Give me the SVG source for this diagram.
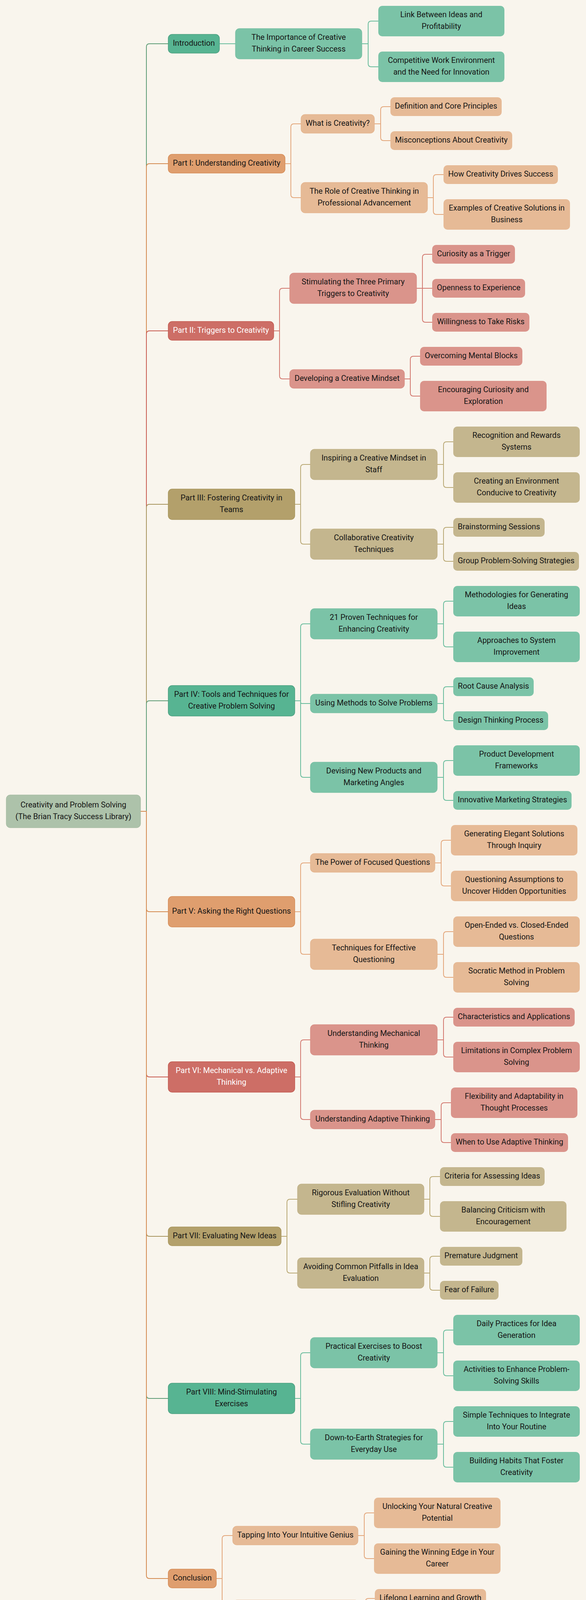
<svg xmlns="http://www.w3.org/2000/svg" width="1501" height="4218" viewBox="0 0 1501 4218">
<style>
.bg{fill:#F9F5ED}
rect{rx:10px;ry:10px}
.root{fill:#ADC2AA;stroke:#9DB49A;stroke-width:1}
.g1{fill:#57B492;stroke:#4A9E7F;stroke-width:1.5}
.g2{fill:#7BC3A7;stroke:#72BB9E;stroke-width:1}
.g3{fill:#7BC3A7}
.o1{fill:#DF9E6E;stroke:#D58B55;stroke-width:1.5}
.o2{fill:#E6BA96;stroke:#E2AD83;stroke-width:1}
.o3{fill:#E6BA96}
.r1{fill:#CD6E66;stroke:#C25A50;stroke-width:1.5}
.r2{fill:#DA948B;stroke:#D4837A;stroke-width:1}
.r3{fill:#DA948B}
.y1{fill:#B3A06B;stroke:#A8955C;stroke-width:1.5}
.y2{fill:#C4B68E;stroke:#BBAA7C;stroke-width:1}
.y3{fill:#C4B68E}
text{font-family:Roboto,"Liberation Sans",sans-serif;font-size:20px;fill:#151515;text-anchor:middle}
text.w{fill:#FFFFFF}
#connectors path{fill:none;stroke-width:2}
.tg{stroke:#5E9C76}.to{stroke:#D48A50}.tr{stroke:#C85A50}.ty{stroke:#A8955F}
.cg{stroke:#68BC9C}.co{stroke:#E3A67A}.cr{stroke:#D2786F}.cy{stroke:#B9A874}
</style>
<rect class="bg" x="0" y="0" width="1501" height="4218" style="rx:0;ry:0"/>
<g id="connectors">
<path class="tg" d="M360 2077H375V120Q375 112 383 112H431"/>
<path class="to" d="M360 2077H375V427Q375 419 383 419H431"/>
<path class="tr" d="M360 2077H375V855Q375 847 383 847H431"/>
<path class="ty" d="M360 2077H375V1299Q375 1291 383 1291H431"/>
<path class="tg" d="M360 2077H375V1802Q375 1794 383 1794H431"/>
<path class="to" d="M360 2077H375V2326Q375 2334 383 2334H431"/>
<path class="tr" d="M360 2077H375V2749Q375 2757 383 2757H431"/>
<path class="ty" d="M360 2077H375V3157Q375 3165 383 3165H431"/>
<path class="tg" d="M360 2077H375V3572Q375 3580 383 3580H431"/>
<path class="to" d="M360 2077H375V4033Q375 4041 383 4041H431"/>
<path class="cg" d="M562 112H603"/>
<path class="co" d="M730 419H745V325Q745 317 753 317H771"/>
<path class="co" d="M730 419H745V498Q745 506 753 506H771"/>
<path class="cr" d="M701 847H716V746Q716 738 724 738H742"/>
<path class="cr" d="M701 847H716V962Q716 970 724 970H742"/>
<path class="cy" d="M755 1291H770V1197Q770 1189 778 1189H795"/>
<path class="cy" d="M755 1291H770V1385Q770 1393 778 1393H795"/>
<path class="cg" d="M755 1794H770V1605Q770 1597 778 1597H795"/>
<path class="cg" d="M755 1794H770V1797.5Q770 1801 773.5 1801H795"/>
<path class="cg" d="M755 1794H770V1982Q770 1990 778 1990H795"/>
<path class="co" d="M755 2334H770V2217Q770 2209 778 2209H795"/>
<path class="co" d="M755 2334H770V2435Q770 2443 778 2443H795"/>
<path class="cr" d="M755 2757H770V2670Q770 2662 778 2662H795"/>
<path class="cr" d="M755 2757H770V2858Q770 2866 778 2866H795"/>
<path class="cy" d="M720 3165H735V3078Q735 3070 743 3070H762"/>
<path class="cy" d="M720 3165H735V3251Q735 3259 743 3259H762"/>
<path class="cg" d="M755 3580H770V3471Q770 3463 778 3463H795"/>
<path class="cg" d="M755 3580H770V3689Q770 3697 778 3697H795"/>
<path class="co" d="M554 4041H569V3939Q569 3931 577 3931H596"/>
<path class="co" d="M554 4041H569V4127Q569 4135 577 4135H596"/>
<path class="cg" d="M927 112H943V62Q943 54 951 54H969"/>
<path class="cg" d="M927 112H943V163Q943 171 951 171H969"/>
<path class="co" d="M959 317H975V281Q975 273 983 273H1000"/>
<path class="co" d="M959 317H975V352Q975 360 983 360H1000"/>
<path class="co" d="M1095 506H1110V455Q1110 447 1118 447H1136"/>
<path class="co" d="M1095 506H1110V541Q1110 549 1118 549H1136"/>
<path class="cr" d="M1067 738H1082V659Q1082 651 1090 651H1107"/>
<path class="cr" d="M1067 738H1107"/>
<path class="cr" d="M1067 738H1082V817Q1082 825 1090 825H1107"/>
<path class="cr" d="M1036 970H1051V920Q1051 912 1059 912H1076"/>
<path class="cr" d="M1036 970H1051V1006Q1051 1014 1059 1014H1076"/>
<path class="cy" d="M1120 1189H1136V1139Q1136 1131 1144 1131H1161"/>
<path class="cy" d="M1120 1189H1136V1240Q1136 1248 1144 1248H1161"/>
<path class="cy" d="M1120 1393H1136V1358Q1136 1350 1144 1350H1161"/>
<path class="cy" d="M1120 1393H1136V1429Q1136 1437 1144 1437H1161"/>
<path class="cg" d="M1120 1597H1136V1547Q1136 1539 1144 1539H1161"/>
<path class="cg" d="M1120 1597H1136V1648Q1136 1656 1144 1656H1161"/>
<path class="cg" d="M1120 1801H1136V1766Q1136 1758 1144 1758H1161"/>
<path class="cg" d="M1120 1801H1136V1837Q1136 1845 1144 1845H1161"/>
<path class="cg" d="M1120 1990H1136V1955Q1136 1947 1144 1947H1161"/>
<path class="cg" d="M1120 1990H1136V2041Q1136 2049 1144 2049H1161"/>
<path class="co" d="M1114 2209H1130V2159Q1130 2151 1138 2151H1155"/>
<path class="co" d="M1114 2209H1130V2260Q1130 2268 1138 2268H1155"/>
<path class="co" d="M1120 2443H1136V2393Q1136 2385 1144 2385H1161"/>
<path class="co" d="M1120 2443H1136V2494Q1136 2502 1144 2502H1161"/>
<path class="cr" d="M1120 2662H1136V2612Q1136 2604 1144 2604H1161"/>
<path class="cr" d="M1120 2662H1136V2698Q1136 2706 1144 2706H1161"/>
<path class="cr" d="M1114 2866H1130V2831Q1130 2823 1138 2823H1155"/>
<path class="cr" d="M1114 2866H1130V2917Q1130 2925 1138 2925H1155"/>
<path class="cy" d="M1086 3070H1101V3020Q1101 3012 1109 3012H1127"/>
<path class="cy" d="M1086 3070H1101V3106Q1101 3114 1109 3114H1127"/>
<path class="cy" d="M1086 3259H1101V3224Q1101 3216 1109 3216H1127"/>
<path class="cy" d="M1086 3259H1101V3295Q1101 3303 1109 3303H1127"/>
<path class="cg" d="M1120 3463H1136V3413Q1136 3405 1144 3405H1161"/>
<path class="cg" d="M1120 3463H1136V3514Q1136 3522 1144 3522H1161"/>
<path class="cg" d="M1120 3697H1136V3647Q1136 3639 1144 3639H1161"/>
<path class="cg" d="M1120 3697H1136V3748Q1136 3756 1144 3756H1161"/>
<path class="co" d="M917 3931H933V3881Q933 3873 941 3873H958"/>
<path class="co" d="M917 3931H933V3982Q933 3990 941 3990H958"/>
<path class="co" d="M920 4135H936V4100Q936 4092 944 4092H960"/>
<path class="co" d="M920 4135H936V4170Q936 4178 944 4178H960"/>
</g>
<g id="root"><rect class="root" x="16" y="2035" width="344" height="84"/><text x="188" y="2067">Creativity and Problem Solving</text><text x="188" y="2097">(The Brian Tracy Success Library)</text></g>
<g id="introduction"><rect class="g1" x="431" y="88" width="131" height="48"/><text x="496.5" y="117">Introduction</text></g>
<g id="part1"><rect class="o1" x="431" y="395" width="299" height="48"/><text x="580.5" y="424">Part I: Understanding Creativity</text></g>
<g id="part2"><rect class="r1" x="431" y="823" width="270" height="48"/><text class="w" x="566" y="852">Part II: Triggers to Creativity</text></g>
<g id="part3"><rect class="y1" x="431" y="1252" width="324" height="78"/><text x="593" y="1281">Part III: Fostering Creativity in</text><text x="593" y="1311">Teams</text></g>
<g id="part4"><rect class="g1" x="431" y="1755" width="324" height="78"/><text x="593" y="1784">Part IV: Tools and Techniques for</text><text x="593" y="1814">Creative Problem Solving</text></g>
<g id="part5"><rect class="o1" x="431" y="2295" width="324" height="78"/><text x="593" y="2339">Part V: Asking the Right Questions</text></g>
<g id="part6"><rect class="r1" x="431" y="2718" width="324" height="78"/><text class="w" x="593" y="2747">Part VI: Mechanical vs. Adaptive</text><text class="w" x="593" y="2777">Thinking</text></g>
<g id="part7"><rect class="y1" x="431" y="3141" width="289" height="48"/><text x="575.5" y="3170">Part VII: Evaluating New Ideas</text></g>
<g id="part8"><rect class="g1" x="431" y="3541" width="324" height="78"/><text x="593" y="3570">Part VIII: Mind-Stimulating</text><text x="593" y="3600">Exercises</text></g>
<g id="conclusion"><rect class="o1" x="431" y="4017" width="123" height="48"/><text x="492.5" y="4046">Conclusion</text></g>
<g id="importance"><rect class="g2" x="603" y="73" width="324" height="78"/><text x="765" y="102">The Importance of Creative</text><text x="765" y="132">Thinking in Career Success</text></g>
<g id="what-is"><rect class="o2" x="771" y="293" width="188" height="48"/><text x="865" y="322">What is Creativity?</text></g>
<g id="role"><rect class="o2" x="771" y="467" width="324" height="78"/><text x="933" y="496">The Role of Creative Thinking in</text><text x="933" y="526">Professional Advancement</text></g>
<g id="stimulating"><rect class="r2" x="742" y="699" width="325" height="78"/><text x="904.5" y="728">Stimulating the Three Primary</text><text x="904.5" y="758">Triggers to Creativity</text></g>
<g id="developing"><rect class="r2" x="742" y="946" width="294" height="48"/><text x="889" y="975">Developing a Creative Mindset</text></g>
<g id="inspiring"><rect class="y2" x="795" y="1150" width="325" height="78"/><text x="957.5" y="1179">Inspiring a Creative Mindset in</text><text x="957.5" y="1209">Staff</text></g>
<g id="collaborative"><rect class="y2" x="795" y="1354" width="325" height="78"/><text x="957.5" y="1383">Collaborative Creativity</text><text x="957.5" y="1413">Techniques</text></g>
<g id="proven"><rect class="g2" x="795" y="1558" width="325" height="78"/><text x="957.5" y="1587">21 Proven Techniques for</text><text x="957.5" y="1617">Enhancing Creativity</text></g>
<g id="using-methods"><rect class="g2" x="795" y="1777" width="325" height="48"/><text x="957.5" y="1806">Using Methods to Solve Problems</text></g>
<g id="devising"><rect class="g2" x="795" y="1951" width="325" height="78"/><text x="957.5" y="1980">Devising New Products and</text><text x="957.5" y="2010">Marketing Angles</text></g>
<g id="power"><rect class="o2" x="795" y="2185" width="319" height="48"/><text x="954.5" y="2214">The Power of Focused Questions</text></g>
<g id="techniques"><rect class="o2" x="795" y="2404" width="325" height="78"/><text x="957.5" y="2433">Techniques for Effective</text><text x="957.5" y="2463">Questioning</text></g>
<g id="mechanical"><rect class="r2" x="795" y="2623" width="325" height="78"/><text x="957.5" y="2652">Understanding Mechanical</text><text x="957.5" y="2682">Thinking</text></g>
<g id="adaptive"><rect class="r2" x="795" y="2842" width="319" height="48"/><text x="954.5" y="2871">Understanding Adaptive Thinking</text></g>
<g id="rigorous"><rect class="y2" x="762" y="3031" width="324" height="78"/><text x="924" y="3060">Rigorous Evaluation Without</text><text x="924" y="3090">Stifling Creativity</text></g>
<g id="avoiding"><rect class="y2" x="762" y="3220" width="324" height="78"/><text x="924" y="3249">Avoiding Common Pitfalls in Idea</text><text x="924" y="3279">Evaluation</text></g>
<g id="practical"><rect class="g2" x="795" y="3424" width="325" height="78"/><text x="957.5" y="3453">Practical Exercises to Boost</text><text x="957.5" y="3483">Creativity</text></g>
<g id="down-to-earth"><rect class="g2" x="795" y="3658" width="325" height="78"/><text x="957.5" y="3687">Down-to-Earth Strategies for</text><text x="957.5" y="3717">Everyday Use</text></g>
<g id="tapping"><rect class="o2" x="596" y="3907" width="321" height="48"/><text x="756.5" y="3936">Tapping Into Your Intuitive Genius</text></g>
<g id="final-thoughts"><rect class="o2" x="596" y="4096" width="324" height="78"/><text x="758" y="4125">Final Thoughts on Continuous</text><text x="758" y="4155">Improvement</text></g>
<g id="link"><rect class="g3" x="969" y="15" width="323" height="78"/><text x="1130.5" y="44">Link Between Ideas and</text><text x="1130.5" y="74">Profitability</text></g>
<g id="competitive"><rect class="g3" x="969" y="132" width="323" height="78"/><text x="1130.5" y="161">Competitive Work Environment</text><text x="1130.5" y="191">and the Need for Innovation</text></g>
<g id="definition"><rect class="o3" x="1000" y="249" width="285" height="48"/><text x="1142.5" y="278">Definition and Core Principles</text></g>
<g id="misconceptions"><rect class="o3" x="1000" y="336" width="312" height="48"/><text x="1156" y="365">Misconceptions About Creativity</text></g>
<g id="drives-success"><rect class="o3" x="1136" y="423" width="293" height="48"/><text x="1282.5" y="452">How Creativity Drives Success</text></g>
<g id="examples"><rect class="o3" x="1136" y="510" width="324" height="78"/><text x="1298" y="539">Examples of Creative Solutions in</text><text x="1298" y="569">Business</text></g>
<g id="curiosity-trigger"><rect class="r3" x="1107" y="627" width="212" height="48"/><text x="1213" y="656">Curiosity as a Trigger</text></g>
<g id="openness"><rect class="r3" x="1107" y="714" width="238" height="48"/><text x="1226" y="743">Openness to Experience</text></g>
<g id="willingness"><rect class="r3" x="1107" y="801" width="249" height="48"/><text x="1231.5" y="830">Willingness to Take Risks</text></g>
<g id="overcoming"><rect class="r3" x="1076" y="888" width="262" height="48"/><text x="1207" y="917">Overcoming Mental Blocks</text></g>
<g id="encouraging"><rect class="r3" x="1076" y="975" width="324" height="78"/><text x="1238" y="1004">Encouraging Curiosity and</text><text x="1238" y="1034">Exploration</text></g>
<g id="recognition"><rect class="y3" x="1161" y="1092" width="324" height="78"/><text x="1323" y="1121">Recognition and Rewards</text><text x="1323" y="1151">Systems</text></g>
<g id="environment"><rect class="y3" x="1161" y="1209" width="324" height="78"/><text x="1323" y="1238">Creating an Environment</text><text x="1323" y="1268">Conducive to Creativity</text></g>
<g id="brainstorming"><rect class="y3" x="1161" y="1326" width="234" height="48"/><text x="1278" y="1355">Brainstorming Sessions</text></g>
<g id="group-problem"><rect class="y3" x="1161" y="1413" width="322" height="48"/><text x="1322" y="1442">Group Problem-Solving Strategies</text></g>
<g id="methodologies"><rect class="g3" x="1161" y="1500" width="324" height="78"/><text x="1323" y="1529">Methodologies for Generating</text><text x="1323" y="1559">Ideas</text></g>
<g id="approaches"><rect class="g3" x="1161" y="1617" width="324" height="78"/><text x="1323" y="1646">Approaches to System</text><text x="1323" y="1676">Improvement</text></g>
<g id="root-cause"><rect class="g3" x="1161" y="1734" width="206" height="48"/><text x="1264" y="1763">Root Cause Analysis</text></g>
<g id="design-thinking"><rect class="g3" x="1161" y="1821" width="243" height="48"/><text x="1282.5" y="1850">Design Thinking Process</text></g>
<g id="product-dev"><rect class="g3" x="1161" y="1908" width="324" height="78"/><text x="1323" y="1937">Product Development</text><text x="1323" y="1967">Frameworks</text></g>
<g id="innovative-marketing"><rect class="g3" x="1161" y="2025" width="303" height="48"/><text x="1312.5" y="2054">Innovative Marketing Strategies</text></g>
<g id="generating"><rect class="o3" x="1155" y="2112" width="324" height="78"/><text x="1317" y="2141">Generating Elegant Solutions</text><text x="1317" y="2171">Through Inquiry</text></g>
<g id="questioning"><rect class="o3" x="1155" y="2229" width="324" height="78"/><text x="1317" y="2258">Questioning Assumptions to</text><text x="1317" y="2288">Uncover Hidden Opportunities</text></g>
<g id="open-ended"><rect class="o3" x="1161" y="2346" width="324" height="78"/><text x="1323" y="2375">Open-Ended vs. Closed-Ended</text><text x="1323" y="2405">Questions</text></g>
<g id="socratic"><rect class="o3" x="1161" y="2463" width="324" height="78"/><text x="1323" y="2492">Socratic Method in Problem</text><text x="1323" y="2522">Solving</text></g>
<g id="characteristics"><rect class="r3" x="1161" y="2580" width="311" height="48"/><text x="1316.5" y="2609">Characteristics and Applications</text></g>
<g id="limitations"><rect class="r3" x="1161" y="2667" width="324" height="78"/><text x="1323" y="2696">Limitations in Complex Problem</text><text x="1323" y="2726">Solving</text></g>
<g id="flexibility"><rect class="r3" x="1155" y="2784" width="324" height="78"/><text x="1317" y="2813">Flexibility and Adaptability in</text><text x="1317" y="2843">Thought Processes</text></g>
<g id="when-adaptive"><rect class="r3" x="1155" y="2901" width="300" height="48"/><text x="1305" y="2930">When to Use Adaptive Thinking</text></g>
<g id="criteria"><rect class="y3" x="1127" y="2988" width="268" height="48"/><text x="1261" y="3017">Criteria for Assessing Ideas</text></g>
<g id="balancing"><rect class="y3" x="1127" y="3075" width="324" height="78"/><text x="1289" y="3104">Balancing Criticism with</text><text x="1289" y="3134">Encouragement</text></g>
<g id="premature"><rect class="y3" x="1127" y="3192" width="211" height="48"/><text x="1232.5" y="3221">Premature Judgment</text></g>
<g id="fear"><rect class="y3" x="1127" y="3279" width="150" height="48"/><text x="1202" y="3308">Fear of Failure</text></g>
<g id="daily"><rect class="g3" x="1161" y="3366" width="324" height="78"/><text x="1323" y="3395">Daily Practices for Idea</text><text x="1323" y="3425">Generation</text></g>
<g id="activities"><rect class="g3" x="1161" y="3483" width="324" height="78"/><text x="1323" y="3512">Activities to Enhance Problem-</text><text x="1323" y="3542">Solving Skills</text></g>
<g id="simple"><rect class="g3" x="1161" y="3600" width="324" height="78"/><text x="1323" y="3629">Simple Techniques to Integrate</text><text x="1323" y="3659">Into Your Routine</text></g>
<g id="habits"><rect class="g3" x="1161" y="3717" width="324" height="78"/><text x="1323" y="3746">Building Habits That Foster</text><text x="1323" y="3776">Creativity</text></g>
<g id="unlocking"><rect class="o3" x="958" y="3834" width="324" height="78"/><text x="1120" y="3863">Unlocking Your Natural Creative</text><text x="1120" y="3893">Potential</text></g>
<g id="gaining"><rect class="o3" x="958" y="3951" width="324" height="78"/><text x="1120" y="3980">Gaining the Winning Edge in Your</text><text x="1120" y="4010">Career</text></g>
<g id="lifelong"><rect class="o3" x="960" y="4068" width="285" height="48"/><text x="1102.5" y="4097">Lifelong Learning and Growth</text></g>
<g id="commitment"><rect class="o3" x="960" y="4154" width="262" height="48"/><text x="1091" y="4183">Commitment to Innovation</text></g>
</svg>
